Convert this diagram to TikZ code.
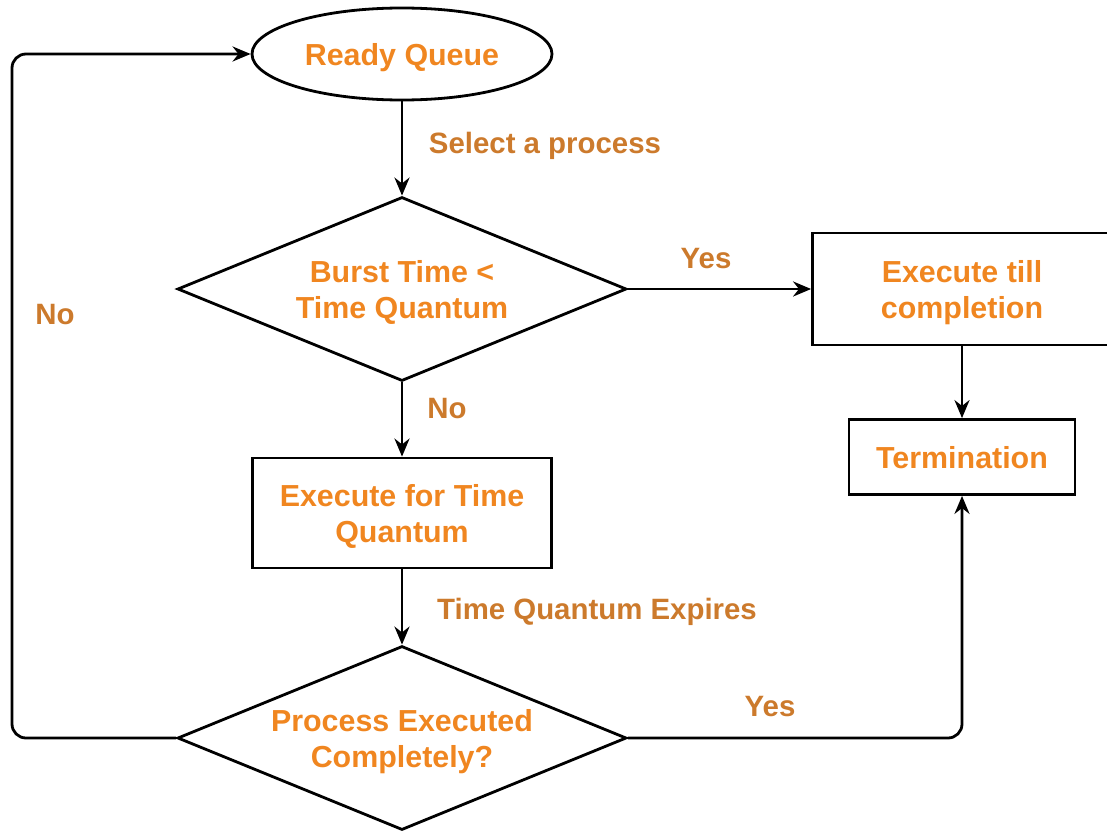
\documentclass[tikz,border=0pt]{standalone}
\usepackage{fontspec}
\setmainfont{Liberation Sans}
\usetikzlibrary{shapes.geometric,arrows.meta}
\definecolor{boxorange}{RGB}{240,134,32}
\definecolor{labelbrown}{RGB}{204,122,44}

\begin{document}
\begin{tikzpicture}[x=0.5pt,y=-0.5pt,
  every node/.style={font=\fontsize{15.2}{18}\selectfont\bfseries},
  block/.style={draw,line width=1.4pt,text=boxorange,align=center,inner sep=0pt,text depth=0pt},
  decision/.style={block,diamond,aspect=2.45,minimum width=224.5pt,minimum height=92pt},
  lbl/.style={text=labelbrown,font=\fontsize{14.7}{18}\selectfont\bfseries},
  flow/.style={line width=1.4pt,-{Stealth[length=9pt,width=7.5pt]},rounded corners=7pt}]

\useasboundingbox (0,0) rectangle (1107,830);

\node[block,ellipse,minimum width=150pt,minimum height=46pt] (ready) at (402,54) {Ready Queue};
\node[decision] (burst) at (402,289) {Burst Time <\\Time Quantum};
\node[block,minimum width=149.5pt,minimum height=56pt] (tillend) at (962,289) {Execute till\\completion};
\node[block,minimum width=113pt,minimum height=37.5pt] (term) at (962,457) {Termination};
\node[block,minimum width=149.5pt,minimum height=55pt] (quantum) at (402,513) {Execute for Time\\Quantum};
\node[decision] (done) at (402,738) {Process Executed\\Completely?};

\coordinate (loop) at (12,738);

\draw[flow] (ready) -- (burst);
\draw[flow] (burst) -- (tillend);
\draw[flow] (tillend) -- (term);
\draw[flow] (burst) -- (quantum);
\draw[flow] (quantum) -- (done);
\draw[flow] (done.east) -| (term.south);
\draw[flow] (done.west) -- (loop) |- (ready.west);

\node[lbl] (selectlbl) at (545,146) {Select a process};
\node[lbl] (yesup) at (706,259) {Yes};
\node[lbl] (noup) at (447,409) {No};
\node[lbl] (expirelbl) at (597,612) {Time Quantum Expires};
\node[lbl] (yesdown) at (770,707) {Yes};
\node[lbl] (noloop) at (55,315) {No};

\end{tikzpicture}
\end{document}
